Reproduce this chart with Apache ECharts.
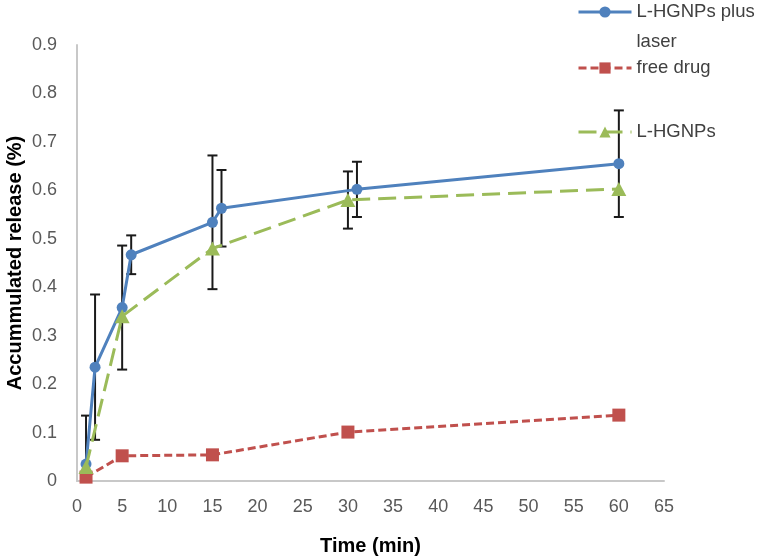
<!DOCTYPE html>
<html>
<head>
<meta charset="utf-8">
<script src="https://cdn.jsdelivr.net/npm/echarts@6/dist/echarts.min.js"></script>
<style>html,body{margin:0;padding:0;background:#fff}#c{width:758px;height:557px}</style>
</head>
<body>
<div id="c"></div>
<script>
// ---- data ----
var timeLaser    = [1, 2, 5, 6, 15, 16, 31, 60];
var releaseLaser = [0.035, 0.235, 0.358, 0.467, 0.534, 0.563, 0.602, 0.655];
var errLaser     = [0.10, 0.15, 0.128, 0.04, 0.138, 0.079, 0.057, 0.11];

var timeFree     = [1, 5, 15, 30, 60];
var releaseFree  = [0.008, 0.052, 0.054, 0.101, 0.136];

var timeHGNP     = [1, 5, 15, 30, 60];
var releaseHGNP  = [0.029, 0.34, 0.48, 0.58, 0.603];
var errHGNP      = [0, 0, 0, 0.059, 0];

var xTicks = {min: 0, max: 65, interval: 5};
var yTicks = {min: 0, max: 0.9, interval: 0.1};

var nameLaser = 'L-HGNPs plus laser';
var nameFree = 'free drug';
var nameHGNP = 'L-HGNPs';

function pairs(xs, ys){ return xs.map(function(x,i){ return [x, ys[i]]; }); }
function errData(xs, ys, es){
  var out = [];
  xs.forEach(function(x,i){ if (es[i] > 0) out.push([x, ys[i] - es[i], ys[i] + es[i]]); });
  return out;
}

var BLUE = '#4F81BD', RED = '#C0504D', GREEN = '#9BBB59';
var FONT = '"Liberation Sans", Arial, sans-serif';

function errorSeries(data){
  return {
    type: 'custom',
    silent: true,
    clip: true,
    z: 1,
    data: data,
    encode: {x: 0, y: [1, 2]},
    renderItem: function(params, api){
      var x = api.value(0);
      var lo = api.coord([x, api.value(1)]);
      var hi = api.coord([x, api.value(2)]);
      var w = 5;
      var st = {stroke: '#1a1a1a', lineWidth: 2};
      return {
        type: 'group',
        children: [
          {type: 'line', shape: {x1: lo[0], y1: lo[1], x2: hi[0], y2: hi[1]}, style: st},
          {type: 'line', shape: {x1: lo[0]-w, y1: lo[1], x2: lo[0]+w, y2: lo[1]}, style: st},
          {type: 'line', shape: {x1: hi[0]-w, y1: hi[1], x2: hi[0]+w, y2: hi[1]}, style: st}
        ]
      };
    }
  };
}

var legendText = {fontFamily: FONT, fontSize: 18.5, color: '#404040'};
var legendCommon = {left: 577, padding: 0, itemWidth: 53, itemHeight: 14, itemGap: 0,
                    lineStyle: {width: 3}};

var chart = echarts.init(document.getElementById('c'), null, {renderer: 'canvas'});
chart.setOption({
  animation: false,
  backgroundColor: '#ffffff',
  grid: {left: 77, right: 94, top: 45, bottom: 76, containLabel: false, outerBoundsMode: 'none'},
  legend: [
    Object.assign({data: [nameLaser], top: -33,
     formatter: function(n){ return ' \nL-HGNPs plus\nlaser'; },
     textStyle: Object.assign({lineHeight: 30}, legendText)}, legendCommon),
    Object.assign({data: [nameFree], top: 57,
     textStyle: Object.assign({lineHeight: 22}, legendText)}, legendCommon),
    Object.assign({data: [nameHGNP], top: 121,
     textStyle: Object.assign({lineHeight: 22}, legendText)}, legendCommon)
  ],
  xAxis: {
    type: 'value', min: xTicks.min, max: xTicks.max, interval: xTicks.interval,
    name: 'Time (min)', nameLocation: 'middle', nameGap: 55, nameMoveOverlap: false,
    nameTextStyle: {fontFamily: FONT, fontSize: 20, fontWeight: 'bold', color: '#000'},
    axisLine: {show: true, lineStyle: {color: '#c8c8c8', width: 2}},
    axisTick: {show: false},
    splitLine: {show: false},
    axisLabel: {fontFamily: FONT, fontSize: 18, color: '#595959', margin: 17}
  },
  yAxis: {
    type: 'value', min: yTicks.min, max: yTicks.max, interval: yTicks.interval,
    name: 'Accummulated release (%)', nameLocation: 'middle', nameGap: 52, nameMoveOverlap: false,
    nameTextStyle: {fontFamily: FONT, fontSize: 20, fontWeight: 'bold', color: '#000'},
    axisLine: {show: true, lineStyle: {color: '#c8c8c8', width: 2}},
    axisTick: {show: false},
    splitLine: {show: false},
    axisLabel: {fontFamily: FONT, fontSize: 18, color: '#595959', margin: 20}
  },
  series: [
    errorSeries(errData(timeLaser, releaseLaser, errLaser)),
    errorSeries(errData(timeHGNP, releaseHGNP, errHGNP)),
    {
      name: nameLaser, type: 'line', z: 3, data: pairs(timeLaser, releaseLaser),
      symbol: 'circle', symbolSize: 11,
      lineStyle: {color: BLUE, width: 3}, itemStyle: {color: BLUE}
    },
    {
      name: nameFree, type: 'line', z: 4, data: pairs(timeFree, releaseFree),
      symbol: 'rect', symbolSize: 13,
      lineStyle: {color: RED, width: 3, type: [8, 4]}, itemStyle: {color: RED}
    },
    {
      name: nameHGNP, type: 'line', z: 5, data: pairs(timeHGNP, releaseHGNP),
      symbol: 'triangle', symbolSize: [15, 14],
      lineStyle: {color: GREEN, width: 3, type: [18, 8]}, itemStyle: {color: GREEN}
    }
  ]
});
</script>
</body>
</html>
